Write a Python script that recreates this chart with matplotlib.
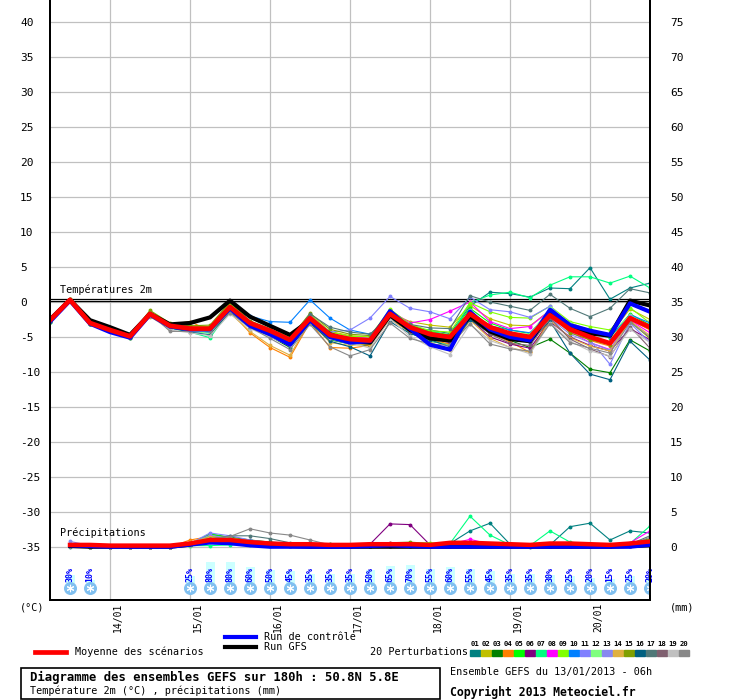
import numpy as np
import matplotlib
matplotlib.use('Agg')
import matplotlib.pyplot as plt
from matplotlib.lines import Line2D
from matplotlib.patches import Rectangle

plt.rcParams['font.family'] = ['DejaVu Sans Mono', 'DejaVu Sans']

# time axis: GEFS run 13/01/2013 06h, every 6h up to 180h
hours = np.arange(0, 181, 6)
precip_hours = hours[1:]

date_labels = ['14/01', '15/01', '16/01', '17/01', '18/01', '19/01', '20/01']
date_hours = [18, 42, 66, 90, 114, 138, 162]

member_names = ['01', '02', '03', '04', '05', '06', '07', '08', '09', '10',
                '11', '12', '13', '14', '15', '16', '17', '18', '19', '20']
member_colors = ['#008080', '#c0c000', '#008000', '#ff8000', '#00ff00', '#800080', '#00ff80',
                 '#ff00ff', '#80ff00', '#0080ff', '#8080ff', '#80ff80', '#8888f0', '#e0b040',
                 '#80a000', '#006080', '#507878', '#806070', '#c0c0c0', '#888888']

# 2m temperature (degC)
temp_mean = [-2.6, 0.3, -3.0, -4.0, -4.9, -1.7, -3.4, -3.8, -3.8, -0.7, -3.0, -4.1, -5.4, -2.3, -4.7, -5.3,
             -5.5, -1.7, -3.6, -4.6, -5.0, -1.7, -3.6, -4.5, -5.0, -1.9, -3.9, -5.0, -5.9, -2.3, -3.6]
temp_gfs = [-2.5, 0.3, -2.6, -3.6, -4.7, -1.7, -3.2, -3.0, -2.2, 0.2, -2.1, -3.4, -4.7, -2.6, -4.6, -5.6,
            -5.8, -1.9, -4.0, -5.2, -5.5, -2.0, -4.2, -5.3, -5.6, -1.5, -3.6, -4.5, -4.8, 0.2, -0.5]
temp_ctrl = [-2.8, 0.2, -3.1, -4.3, -5.1, -1.8, -3.5, -3.9, -3.9, -0.9, -3.4, -4.6, -6.1, -2.6, -5.0, -5.8,
             -5.6, -1.3, -3.8, -6.1, -6.8, -1.4, -3.9, -5.0, -5.5, -1.1, -3.3, -4.1, -4.7, -0.2, -1.4]
temp_members = [
    [-2.7, 0.3, -3.1, -4.1, -5.0, -1.9, -3.5, -4.0, -4.2, -1.0, -3.3, -4.4, -5.9, -2.7, -5.2, -5.8,
     -6.3, -2.0, -4.0, -4.0, -4.5, -0.6, 1.4, 1.2, 0.7, 2.0, 1.9, 4.9, 0.4, 2.0, 2.7],
    [-2.5, 0.4, -2.9, -4.0, -4.9, -1.6, -3.3, -3.6, -3.8, -0.5, -3.0, -4.0, -5.3, -1.8, -4.2, -4.8,
     -5.0, -1.6, -2.8, -3.3, -3.6, -0.5, -2.4, -3.3, -3.4, -1.2, -3.0, -4.0, -4.6, -1.0, -2.5],
    [-2.9, 0.2, -3.2, -4.2, -5.0, -1.8, -3.6, -3.9, -4.1, -1.1, -3.5, -4.9, -6.5, -2.9, -5.4, -6.0,
     -6.2, -2.1, -4.4, -5.6, -6.1, -2.5, -4.5, -5.5, -6.5, -5.3, -7.3, -9.6, -10.1, -5.4, -7.0],
    [-2.6, 0.3, -3.0, -4.0, -4.9, -1.9, -3.2, -2.8, -4.1, -1.3, -4.4, -6.5, -7.9, -2.9, -6.5, -6.6,
     -6.2, -2.5, -4.2, -5.4, -6.0, -2.4, -4.4, -5.7, -7.2, -2.2, -4.0, -5.5, -6.3, -2.5, -4.0],
    [-2.7, 0.3, -3.0, -4.0, -4.9, -1.5, -3.3, -3.6, -3.7, -0.3, -2.9, -3.9, -5.0, -2.2, -4.5, -5.2,
     -5.6, -1.2, -3.3, -4.2, -4.7, -0.9, -3.0, -4.0, -4.5, -1.4, -3.1, -4.4, -5.1, -1.7, -3.3],
    [-2.6, 0.3, -3.0, -4.1, -5.0, -1.8, -3.5, -3.9, -4.0, -1.0, -3.2, -4.3, -5.7, -2.5, -4.9, -5.5,
     -5.2, -1.9, -4.0, -5.2, -5.8, -2.4, -5.0, -6.0, -6.6, -2.8, -5.0, -6.2, -7.0, -3.8, -5.4],
    [-2.8, 0.2, -3.1, -4.2, -5.1, -2.0, -3.7, -4.3, -5.1, -1.2, -3.5, -4.6, -6.0, -2.5, -4.8, -5.6,
     -5.8, -2.2, -3.9, -4.0, -5.0, -0.1, 1.0, 1.4, 0.6, 2.4, 3.6, 3.6, 2.7, 3.7, 2.0],
    [-2.6, 0.3, -3.0, -4.0, -4.9, -1.7, -3.4, -3.8, -3.9, -0.9, -3.1, -4.2, -5.5, -2.4, -4.6, -5.0,
     -5.1, -1.2, -3.0, -2.5, -1.3, 0.0, -2.8, -3.8, -3.5, -1.2, -4.2, -5.8, -6.8, -2.6, -4.4],
    [-2.7, 0.4, -3.0, -4.0, -4.9, -1.4, -3.2, -3.5, -3.5, -0.2, -2.8, -3.9, -5.1, -1.9, -4.3, -4.9,
     -5.0, -1.0, -3.2, -4.1, -4.3, -0.1, -1.4, -2.2, -2.3, -0.6, -2.8, -3.5, -4.0, -0.8, -3.0],
    [-2.6, 0.3, -3.0, -4.0, -5.0, -2.0, -3.6, -4.2, -4.4, -1.3, -2.0, -2.8, -2.9, 0.3, -2.3, -4.0,
     -4.6, -2.4, -4.0, -5.0, -5.5, -2.1, -3.4, -4.0, -4.4, -1.5, -3.4, -4.4, -5.0, -1.8, -3.0],
    [-2.4, 0.3, -2.9, -4.0, -4.9, -1.7, -3.3, -3.6, -3.7, -0.8, -3.2, -4.3, -5.6, -2.0, -4.3, -4.0,
     -2.3, 0.8, -0.9, -1.4, -2.4, 0.7, -1.1, -1.4, -2.2, -0.6, -3.3, -5.4, -8.9, -3.0, -5.8],
    [-2.8, 0.2, -3.1, -4.1, -5.0, -1.9, -3.7, -4.1, -4.5, -1.5, -3.6, -4.8, -6.0, -2.7, -5.3, -6.0,
     -6.0, -2.0, -4.4, -5.5, -6.2, -2.3, -3.6, -4.6, -4.6, -0.9, -3.0, -4.2, -4.6, -1.9, -3.6],
    [-2.3, 0.4, -2.8, -3.9, -4.9, -1.7, -3.4, -3.8, -3.9, -0.8, -3.1, -4.4, -5.5, -2.4, -4.6, -5.3,
     -5.9, -1.6, -3.8, -4.6, -5.3, -1.2, -3.8, -4.8, -5.8, -2.3, -4.6, -5.8, -6.9, -2.0, -3.6],
    [-2.7, 0.2, -3.1, -4.2, -5.1, -2.1, -3.8, -3.3, -4.2, -1.6, -4.2, -6.2, -7.6, -2.7, -5.8, -6.2,
     -6.0, -2.5, -4.2, -5.8, -6.8, -2.6, -5.2, -6.5, -7.2, -2.6, -5.1, -6.3, -7.0, -2.7, -4.8],
    [-2.5, 0.5, -2.9, -4.0, -4.8, -1.2, -3.0, -3.4, -3.3, 0.0, -2.7, -3.8, -5.2, -1.6, -3.9, -4.6,
     -4.8, -1.3, -3.5, -4.3, -5.0, -1.6, -3.7, -4.7, -5.0, -1.7, -4.4, -5.4, -6.1, -2.8, -5.2],
    [-2.8, 0.2, -3.2, -4.2, -5.1, -2.0, -3.7, -4.3, -4.7, -1.4, -3.7, -4.8, -6.3, -3.0, -5.6, -6.4,
     -7.7, -2.8, -4.5, -5.4, -6.4, -2.5, -4.4, -5.1, -5.7, -2.7, -7.3, -10.3, -11.1, -5.6, -8.3],
    [-2.6, 0.3, -3.0, -4.0, -4.9, -1.9, -3.5, -4.0, -4.0, -1.0, -3.1, -4.2, -5.5, -1.7, -3.6, -4.3,
     -4.6, -2.0, -3.2, -3.7, -3.8, 0.9, 0.0, -0.6, -1.2, 1.1, -0.9, -2.1, -0.9, 1.9, 1.3],
    [-2.7, 0.3, -3.0, -4.1, -5.0, -1.8, -3.5, -3.9, -4.0, -1.1, -3.3, -4.4, -5.6, -2.5, -4.8, -5.4,
     -5.6, -2.1, -4.3, -5.1, -5.5, -2.0, -4.6, -5.9, -6.2, -2.3, -5.3, -6.7, -7.8, -3.5, -6.6],
    [-2.6, 0.3, -3.0, -4.0, -4.9, -2.0, -4.0, -4.4, -4.8, -1.7, -3.8, -5.0, -6.2, -2.6, -5.1, -5.8,
     -6.6, -2.4, -4.9, -6.4, -7.5, -3.2, -5.5, -6.5, -7.4, -3.0, -5.6, -7.0, -7.7, -3.9, -5.8],
    [-2.7, 0.3, -3.0, -4.1, -5.0, -1.6, -4.2, -4.2, -4.1, -1.5, -3.6, -5.2, -6.8, -3.2, -6.4, -7.7,
     -6.8, -3.0, -5.2, -6.0, -6.2, -3.1, -6.0, -6.7, -7.0, -3.1, -5.8, -6.6, -7.3, -2.9, -5.0],
]

# 6h precipitation (mm), from +6h
precip_mean = [0.3, 0.3, 0.2, 0.2, 0.2, 0.2, 0.5, 1.0, 1.0, 0.7, 0.5, 0.4, 0.4, 0.3, 0.3,
               0.4, 0.4, 0.4, 0.3, 0.6, 0.6, 0.5, 0.4, 0.3, 0.5, 0.5, 0.4, 0.3, 0.5, 0.8]
precip_gfs = [0.1, 0.0, 0.0, 0.0, 0.0, 0.0, 0.3, 0.9, 0.8, 0.4, 0.2, 0.1, 0.0, 0.0, 0.0,
              0.0, 0.0, 0.0, 0.0, 0.0, 0.0, 0.0, 0.0, 0.0, 0.0, 0.0, 0.0, 0.0, 0.1, 0.2]
precip_ctrl = [0.2, 0.1, 0.0, 0.0, 0.0, 0.0, 0.3, 0.6, 0.5, 0.2, 0.0, 0.0, 0.0, 0.0, 0.0,
               0.1, 0.2, 0.1, 0.0, 0.0, 0.0, 0.0, 0.0, 0.0, 0.0, 0.0, 0.0, 0.0, 0.0, 0.3]
precip_members = [
    [0, 0, 0, 0, 0, 0, 0.5, 1.4, 1.3, 0.6, 0.5, 0.4, 0.3, 0.3, 0.2, 0.2, 0.3, 0.4, 0.3, 0.5, 2.3, 3.4, 0.4, 0, 0.3, 2.9, 3.4, 1.0, 2.3, 2.0],
    [0.2, 0.1, 0, 0, 0, 0, 0.6, 1.5, 1.2, 0.8, 0.5, 0.3, 0.3, 0.2, 0.2, 0.3, 0.5, 0.6, 0.4, 0.3, 0.4, 0.5, 0.4, 0.2, 0.2, 0.3, 0.2, 0.1, 0.2, 0.5],
    [0.1, 0, 0, 0, 0, 0, 0.4, 1.8, 1.4, 1.0, 0.7, 0.5, 0.4, 0.4, 0.3, 0.3, 0.5, 0.3, 0.4, 0.6, 0.4, 0.3, 0.2, 0.1, 0.1, 0.2, 0.3, 0.2, 0.3, 0.6],
    [0.2, 0.1, 0, 0, 0, 0, 1.0, 1.5, 1.0, 0.5, 0.3, 0.2, 0.2, 0.1, 0.2, 0.4, 0.3, 0.3, 0.2, 0.4, 0.3, 0.2, 0.1, 0.1, 0.2, 0.2, 0.1, 0.1, 0.4, 0.9],
    [0.2, 0.1, 0, 0, 0, 0, 0.3, 1.9, 1.3, 0.8, 0.5, 0.3, 0.3, 0.2, 0.2, 0.4, 0.3, 0.3, 0.3, 0.3, 0.2, 0.2, 0.2, 0.2, 0.3, 0.3, 0.2, 0.2, 0.5, 1.2],
    [0.3, 0.1, 0, 0, 0, 0, 0.5, 1.2, 1.1, 0.6, 0.4, 0.3, 0.3, 0.3, 0.3, 0.4, 3.3, 3.2, 0.3, 0.2, 0.2, 0.3, 0.2, 0.1, 0.1, 0.2, 0.1, 0.1, 0.2, 0.3],
    [0.1, 0, 0, 0, 0, 0, 0.2, 0.2, 0.3, 0.3, 0.2, 0.2, 0.2, 0.1, 0.1, 0.2, 0.3, 0.3, 0.4, 0.5, 4.4, 1.7, 0.3, 0.2, 2.3, 0.7, 0.4, 0.3, 0.5, 3.0],
    [0.2, 0.1, 0, 0, 0, 0, 0.4, 1.1, 1.0, 0.7, 0.4, 0.3, 0.3, 0.2, 0.2, 0.3, 0.6, 0.4, 0.3, 0.4, 1.1, 0.4, 0.3, 0.2, 0.2, 0.2, 0.3, 0.2, 0.6, 2.3],
    [0.1, 0, 0, 0, 0, 0, 0.3, 1.6, 1.3, 0.9, 0.6, 0.4, 0.3, 0.3, 0.3, 0.4, 0.4, 0.5, 0.6, 0.5, 0.3, 0.3, 0.2, 0.2, 0.2, 0.2, 0.2, 0.2, 0.3, 0.8],
    [0.2, 0.1, 0, 0, 0, 0, 0.4, 1.3, 1.0, 0.5, 0.3, 0.2, 0.2, 0.2, 0.2, 0.3, 0.3, 0.3, 0.2, 0.3, 0.3, 0.2, 0.2, 0.1, 0.2, 0.2, 0.2, 0.1, 0.3, 0.7],
    [0.3, 0.1, 0, 0, 0, 0, 0.5, 2.0, 1.6, 1.0, 0.6, 0.4, 0.3, 0.3, 0.3, 0.3, 0.4, 0.3, 0.3, 0.3, 0.2, 0.2, 0.2, 0.1, 0.1, 0.2, 0.2, 0.2, 0.4, 0.9],
    [0.1, 0, 0, 0, 0, 0, 0.2, 0.9, 1.1, 0.8, 0.5, 0.3, 0.3, 0.2, 0.2, 0.2, 0.3, 0.3, 0.2, 0.3, 0.3, 0.2, 0.2, 0.3, 0.4, 0.3, 0.2, 0.2, 0.3, 0.6],
    [0.8, 0.2, 0, 0, 0, 0, 0.5, 1.7, 1.2, 0.8, 0.5, 0.4, 0.3, 0.3, 0.3, 0.3, 0.4, 0.4, 0.3, 0.3, 0.3, 0.2, 0.2, 0.2, 0.2, 0.2, 0.2, 0.1, 0.3, 0.8],
    [0.2, 0.1, 0, 0, 0, 0, 0.7, 1.4, 1.1, 0.7, 0.4, 0.3, 0.2, 0.2, 0.2, 0.3, 0.3, 0.3, 0.3, 0.4, 0.3, 0.2, 0.2, 0.2, 0.2, 0.3, 0.2, 0.2, 0.3, 0.7],
    [0.1, 0, 0, 0, 0, 0, 0.4, 1.2, 0.9, 0.7, 0.5, 0.4, 0.3, 0.3, 0.3, 0.4, 0.6, 0.7, 0.5, 0.4, 0.3, 0.3, 0.2, 0.2, 0.2, 0.2, 0.2, 0.2, 0.3, 0.5],
    [0.1, 0, 0, 0, 0, 0, 0.3, 1.0, 1.0, 0.8, 0.6, 0.4, 0.3, 0.3, 0.2, 0.2, 0.2, 0.2, 0.2, 0.2, 0.3, 0.3, 0.3, 0.2, 0.2, 0.2, 0.1, 0.1, 0.2, 0.4],
    [0.1, 0, 0, 0, 0, 0, 0.4, 1.1, 1.6, 1.6, 1.2, 0.6, 0.4, 0.3, 0.2, 0.2, 0.2, 0.2, 0.2, 0.3, 0.3, 0.2, 0.2, 0.2, 0.2, 0.3, 0.2, 0.2, 0.4, 1.6],
    [0.1, 0, 0, 0, 0, 0, 0.3, 0.9, 0.9, 0.7, 0.5, 0.3, 0.2, 0.2, 0.2, 0.2, 0.3, 0.3, 0.2, 0.3, 0.3, 0.2, 0.2, 0.2, 0.2, 0.2, 0.2, 0.2, 0.3, 0.5],
    [0.1, 0, 0, 0, 0, 0, 0.3, 0.8, 0.8, 0.5, 0.3, 0.2, 0.2, 0.2, 0.1, 0.2, 0.2, 0.2, 0.2, 0.2, 0.2, 0.2, 0.1, 0.1, 0.1, 0.1, 0.1, 0.1, 0.2, 0.4],
    [0.1, 0, 0, 0, 0, 0, 0.4, 1.2, 1.5, 2.6, 2.0, 1.7, 1.0, 0.3, 0.2, 0.2, 0.2, 0.3, 0.2, 0.3, 0.2, 0.2, 0.2, 0.1, 0.1, 0.2, 0.2, 0.2, 0.3, 1.4],
]

# snow probability (%)
snow_hours = [6, 12, 42, 48, 54, 60, 66, 72, 78, 84, 90, 96, 102, 108, 114, 120, 126,
              132, 138, 144, 150, 156, 162, 168, 174, 180]
snow_prob = [30, 10, 25, 80, 80, 60, 50, 45, 35, 35, 35, 50, 65, 70, 55, 60, 55,
             45, 35, 35, 30, 25, 20, 15, 25, 20]

W, H = 740, 700


def fx(px):
    return px / W


def fy(py):
    return 1 - py / H


fig = plt.figure(figsize=(W / 100, H / 100), dpi=100)
ax = fig.add_axes([fx(50), fy(600), 600 / W, 600 / H])
ax2 = ax.twinx()

# 7 px per unit, 0 degC at y=302 px
t_lo, t_hi = (302 - 600) / 7, 302 / 7
ax.set_xlim(0, 180)
ax.set_ylim(t_lo, t_hi)
ax2.set_ylim(t_lo + 35, t_hi + 35)

grid_c = '#c0c0c0'
for yv in range(-35, 41, 5):
    ax.axhline(yv, color=grid_c, lw=0.9, zorder=0)
for h in date_hours:
    ax.axvline(h, color=grid_c, lw=0.9, zorder=0)

# freezing line
ax.axhline(0.45, color='black', lw=0.9, zorder=1)
ax.axhline(0.1, color='black', lw=0.9, zorder=1)

ax.set_yticks(range(-35, 41, 5))
ax.set_yticklabels([str(v) for v in range(-35, 41, 5)], ha='left')
ax.tick_params(axis='y', length=0, pad=21.6, labelsize=8)
ax2.set_yticks(range(0, 76, 5))
ax2.tick_params(axis='y', length=0, pad=14.4, labelsize=8)
ax.set_xticks([])

for a in (ax, ax2):
    a.spines['top'].set_visible(False)
    for s in ('left', 'right', 'bottom'):
        a.spines[s].set_linewidth(1.4)

for h, lab in zip(date_hours, date_labels):
    ax.text(h + 2.4, t_lo - 0.4, lab, rotation=90, ha='center', va='top', fontsize=7, clip_on=False)

# temperature members
for vals, col in zip(temp_members, member_colors):
    ax.plot(hours, vals, color=col, lw=0.8, marker='o', ms=1.8, zorder=2)
ax.plot(hours, temp_gfs, color='black', lw=3.0, zorder=3)
ax.plot(hours, temp_ctrl, color='#0000ff', lw=3.0, zorder=4)
ax.plot(hours, temp_mean, color='#ff0000', lw=3.4, zorder=5)

# precipitation members (right axis, mm)
for vals, col in zip(precip_members, member_colors):
    ax2.plot(precip_hours, vals, color=col, lw=0.8, marker='o', ms=1.8, zorder=2)
ax2.plot(precip_hours, precip_gfs, color='black', lw=2.6, zorder=3)
ax2.plot(precip_hours, precip_ctrl, color='#0000ff', lw=2.6, zorder=4)
ax2.plot(precip_hours, precip_mean, color='#ff0000', lw=3.2, zorder=5)

# snow probability bars, labels and icons
bar_base = (302 - 583) / 7
ax.bar(snow_hours, [p * 0.0375 for p in snow_prob], width=2.7, bottom=bar_base,
       color='#ccffff', zorder=1)
for h, p in zip(snow_hours, snow_prob):
    ax.text(h, bar_base + 0.1, f'{p}%', rotation=90, ha='center', va='bottom',
            fontsize=6, color='#0000ff', fontweight='bold', zorder=6)
icon_y = [(302 - 588) / 7] * len(snow_hours)
ax.scatter(snow_hours, icon_y, s=70, color='#80c0f0', zorder=6)
ax.scatter(snow_hours, icon_y, s=22, marker=(6, 2, 0), color='white', linewidths=0.8, zorder=7)

# texts inside plot
fig.text(fx(60), fy(290), 'Températures 2m', fontsize=7.3, va='center')
fig.text(fx(60), fy(533), 'Précipitations', fontsize=7.3, va='center')
fig.text(fx(20), fy(607), '(°C)', fontsize=7.3, va='center')
fig.text(fx(670), fy(607), '(mm)', fontsize=7.3, va='center')

# legend
fig.add_artist(Line2D([fx(35), fx(66)], [fy(652), fy(652)], color='#ff0000', lw=3.4))
fig.text(fx(75), fy(652), 'Moyenne des scénarios', fontsize=7.3, va='center')
fig.add_artist(Line2D([fx(225), fx(256)], [fy(637), fy(637)], color='#0000ff', lw=3.0))
fig.text(fx(264), fy(637), 'Run de contrôle', fontsize=7.3, va='center')
fig.add_artist(Line2D([fx(225), fx(256)], [fy(647), fy(647)], color='black', lw=3.0))
fig.text(fx(264), fy(647), 'Run GFS', fontsize=7.3, va='center')
fig.text(fx(370), fy(652), '20 Perturbations', fontsize=7.3, va='center')
for k, (name, col) in enumerate(zip(member_names, member_colors)):
    x0 = 470 + 11 * k
    fig.add_artist(Rectangle((fx(x0), fy(656)), 10 / W, 6 / H, color=col))
    fig.text(fx(x0 + 5), fy(644), name, fontsize=5.2, fontweight='bold', ha='center', va='center')

# title box
fig.add_artist(Rectangle((fx(21), fy(699)), 419 / W, 31 / H, fill=False, edgecolor='black', lw=1.2))
fig.text(fx(30), fy(677), 'Diagramme des ensembles GEFS sur 180h : 50.8N 5.8E',
         fontsize=8.8, fontweight='bold', va='center')
fig.text(fx(30), fy(691), 'Température 2m (°C) , précipitations (mm)', fontsize=7.3, va='center')
fig.text(fx(450), fy(672), 'Ensemble GEFS du 13/01/2013 - 06h', fontsize=7.3, va='center')
fig.text(fx(450), fy(692), 'Copyright 2013 Meteociel.fr', fontsize=8.3, fontweight='bold', va='center')

fig.savefig('out.png', dpi=100)
